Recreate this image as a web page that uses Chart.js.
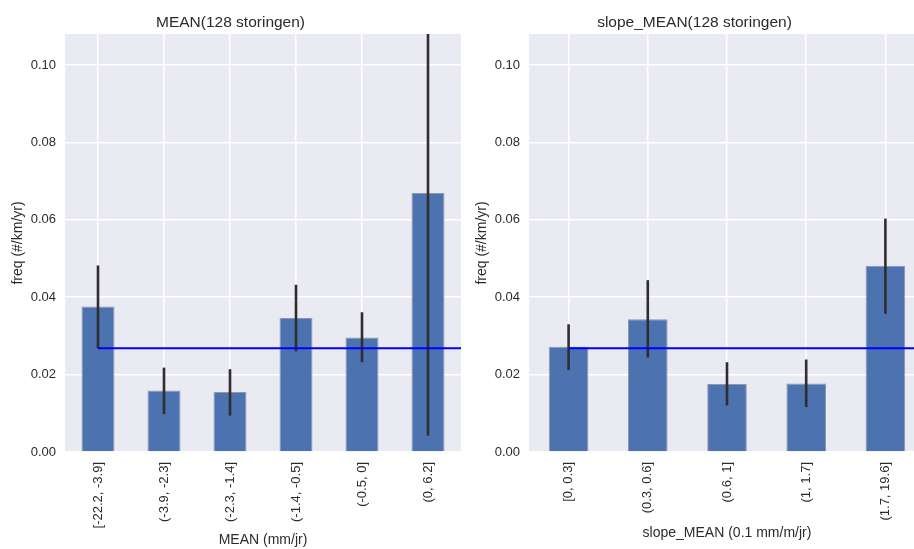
<!DOCTYPE html>
<html>
<head>
<meta charset="utf-8">
<title>storingen freq</title>
<script src="https://cdn.jsdelivr.net/npm/chart.js@4.4.1/dist/chart.umd.min.js"></script>
<style>
    html, body { margin: 0; padding: 0; background: #fff; }
    body { width: 914px; height: 549px; overflow: hidden; position: relative; }
    .panel { position: absolute; top: 0; width: 464px; height: 549px; }
    #leftPanel { left: 0; }
    #rightPanel { left: 464px; }
</style>
</head>
<body>
<div class="panel" id="leftPanel"><canvas id="meanChart" width="464" height="549"></canvas></div>
<div class="panel" id="rightPanel"><canvas id="slopeChart" width="464" height="549"></canvas></div>

<script>
// --- data ---
const meanLabels = ['[-22.2, -3.9]', '(-3.9, -2.3]', '(-2.3, -1.4]', '(-1.4, -0.5]', '(-0.5, 0]', '(0, 6.2]'];
const meanFreq = [0.0376, 0.0159, 0.0155, 0.0346, 0.0296, 0.0669];
const meanErrLow = [0.0268, 0.0098, 0.0094, 0.0260, 0.0232, 0.0042];
const meanErrHigh = [0.0482, 0.0218, 0.0214, 0.0432, 0.0361, 0.1296];

const slopeLabels = ['[0, 0.3]', '(0.3, 0.6]', '(0.6, 1]', '(1, 1.7]', '(1.7, 19.6]'];
const slopeFreq = [0.0272, 0.0343, 0.0176, 0.0177, 0.0481];
const slopeErrLow = [0.0212, 0.0244, 0.0120, 0.0116, 0.0357];
const slopeErrHigh = [0.0330, 0.0444, 0.0232, 0.0239, 0.0603];

// overall average frequency (blue line)
const overallFreq = 0.0268;

const yTicks = [0, 0.02, 0.04, 0.06, 0.08, 0.10];
const yMax = 0.108;

const FONT = "'Liberation Sans', Arial, sans-serif";
const TEXT = '#2b2b2b';

// grey plot background (seaborn darkgrid look)
const plotBackground = {
    id: 'plotBackground',
    beforeDraw(chart) {
        const { ctx, chartArea } = chart;
        ctx.save();
        ctx.fillStyle = '#eaeaf2';
        ctx.fillRect(chartArea.left, chartArea.top, chartArea.right - chartArea.left, chartArea.bottom - chartArea.top);
        ctx.restore();
    }
};

// error bars + overall mean line, drawn through the scales
const errorAndMean = {
    id: 'errorAndMean',
    afterDatasetsDraw(chart, args, opts) {
        const { ctx, chartArea } = chart;
        const x = chart.scales.x;
        const y = chart.scales.y;
        ctx.save();
        ctx.beginPath();
        ctx.rect(chartArea.left, chartArea.top, chartArea.right - chartArea.left, chartArea.bottom - chartArea.top);
        ctx.clip();

        ctx.strokeStyle = '#2e2e2e';
        ctx.lineWidth = 2.6;
        opts.low.forEach((lo, i) => {
            const px = x.getPixelForValue(i);
            ctx.beginPath();
            ctx.moveTo(px, y.getPixelForValue(lo));
            ctx.lineTo(px, y.getPixelForValue(opts.high[i]));
            ctx.stroke();
        });

        // mean line starts at the first category and runs off to the right
        const my = y.getPixelForValue(opts.mean);
        ctx.strokeStyle = '#0000ff';
        ctx.lineWidth = 2;
        ctx.beginPath();
        ctx.moveTo(x.getPixelForValue(0), my);
        ctx.lineTo(chartArea.right, my);
        ctx.stroke();
        ctx.restore();
    }
};

function makePanel(canvasId, cfg) {
    const ctx = document.getElementById(canvasId);
    return new Chart(ctx, {
        type: 'bar',
        data: {
            labels: cfg.labels,
            datasets: [{
                data: cfg.values,
                backgroundColor: '#4c72b0',
                borderColor: 'rgba(70, 80, 110, 0.55)',
                borderWidth: 1,
                barPercentage: 0.5,
                categoryPercentage: 1.0
            }]
        },
        options: {
            responsive: false,
            animation: false,
            layout: { padding: { left: 0, right: 3, top: 0, bottom: 0 } },
            plugins: {
                legend: { display: false },
                tooltip: { enabled: false },
                title: {
                    display: true,
                    text: cfg.title,
                    color: TEXT,
                    font: { family: FONT, size: 15.5, weight: 'normal' },
                    padding: { top: 13.7, bottom: 1.7 }
                },
                errorAndMean: { low: cfg.low, high: cfg.high, mean: overallFreq }
            },
            scales: {
                x: {
                    grid: { color: '#ffffff', lineWidth: 1.5, offset: false, drawTicks: false },
                    border: { display: false },
                    ticks: {
                        color: TEXT,
                        font: { family: FONT, size: 13 },
                        minRotation: 90,
                        maxRotation: 90,
                        padding: 10,
                        autoSkip: false
                    },
                    title: {
                        display: true,
                        text: cfg.xTitle,
                        color: TEXT,
                        font: { family: FONT, size: 14 },
                        padding: { top: 0, bottom: cfg.xTitlePad }
                    },
                    afterFit(scale) { scale.height = 97; }
                },
                y: {
                    min: 0,
                    max: yMax,
                    grid: { color: '#ffffff', lineWidth: 1.5, drawTicks: false },
                    border: { display: false },
                    afterBuildTicks(scale) {
                        scale.ticks = yTicks.map(v => ({ value: v }));
                    },
                    ticks: {
                        color: TEXT,
                        font: { family: FONT, size: 13 },
                        padding: 9,
                        callback: v => Number(v).toFixed(2)
                    },
                    title: {
                        display: true,
                        text: 'freq (#/km/yr)',
                        color: TEXT,
                        font: { family: FONT, size: 14 },
                        padding: { top: 9.6, bottom: 0 }
                    },
                    afterFit(scale) { scale.width = 65; }
                }
            }
        },
        plugins: [plotBackground, errorAndMean]
    });
}

document.addEventListener('DOMContentLoaded', () => {
    makePanel('meanChart', {
        title: 'MEAN(128 storingen)',
        xTitle: 'MEAN (mm/jr)',
        xTitlePad: 0,
        labels: meanLabels,
        values: meanFreq,
        low: meanErrLow,
        high: meanErrHigh
    });
    makePanel('slopeChart', {
        title: 'slope_MEAN(128 storingen)',
        xTitle: 'slope_MEAN (0.1 mm/m/jr)',
        xTitlePad: 7.6,
        labels: slopeLabels,
        values: slopeFreq,
        low: slopeErrLow,
        high: slopeErrHigh
    });
});
</script>
</body>
</html>
